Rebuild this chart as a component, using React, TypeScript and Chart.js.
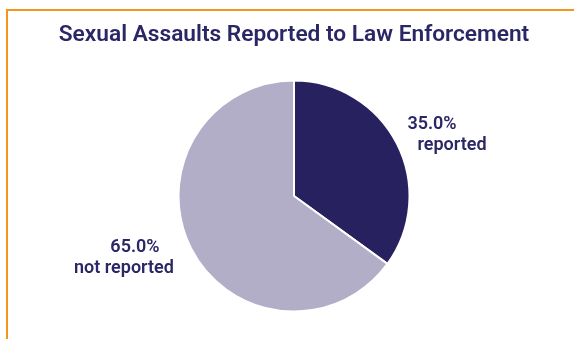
import React, { useEffect, useRef } from "react";
import { Chart, registerables } from "chart.js";

Chart.register(...registerables);

const TITLE = "Sexual Assaults Reported to Law Enforcement";
const categories = ["reported", "not reported"];
const values = [35.0, 65.0];
const sliceColors = ["#27225f", "#b3aec7"];
const TEXT_COLOR = "#2b2665";
const FONT = "Roboto, 'Liberation Sans', Arial, sans-serif";

const outLabels = {
  id: "outLabels",
  afterDatasetsDraw(chart: any) {
    const ctx = chart.ctx;
    const meta = chart.getDatasetMeta(0);
    const ds = chart.data.datasets[0];
    meta.data.forEach((arc: any, i: number) => {
      const p = arc.getProps(["x", "y", "startAngle", "endAngle", "outerRadius"], true);
      const mid = (p.startAngle + p.endAngle) / 2;
      const ax = p.x + Math.cos(mid) * p.outerRadius * 1.555;
      const ay = p.y + Math.sin(mid) * p.outerRadius * 1.18;
      const right = Math.cos(mid) > 0;
      const valDx = right ? -22 : 1;
      const nameDx = right ? -2 : -10;
      ctx.save();
      ctx.fillStyle = TEXT_COLOR;
      ctx.font = `600 18px ${FONT}`;
      ctx.textAlign = "center";
      ctx.textBaseline = "middle";
      ctx.fillText(Number(ds.data[i]).toFixed(1) + "%", ax + valDx, ay - 10);
      ctx.fillText(String(chart.data.labels[i]), ax + nameDx, ay + 11);
      ctx.restore();
    });
  },
};

export default function App() {
  const ref = useRef<HTMLCanvasElement | null>(null);
  useEffect(() => {
    if (!ref.current) return;
    const chart = new Chart(ref.current, {
      type: "pie",
      data: {
        labels: categories,
        datasets: [
          {
            data: values,
            backgroundColor: sliceColors,
            borderColor: "#ffffff",
            borderWidth: 2,
            radius: 115.5,
          } as any,
        ],
      },
      options: {
        animation: false,
        responsive: false,
        devicePixelRatio: 1,
        layout: { padding: { top: 0, left: 14, right: 0, bottom: 17 } },
        plugins: {
          legend: { display: false },
          tooltip: { enabled: false },
          title: {
            display: true,
            text: TITLE,
            color: TEXT_COLOR,
            font: { family: FONT, size: 22.7, weight: "600" as any },
            padding: { top: 21.6, bottom: 21.2 },
          },
        },
      },
      plugins: [outLabels],
    });
    return () => chart.destroy();
  }, []);
  return (
    <div style={{ position: "fixed", left: 0, top: 0, width: 574, height: 339, background: "#fff", overflow: "hidden" }}>
      <div
        style={{
          position: "absolute",
          left: 6,
          top: 9,
          width: 600,
          height: 400,
          borderTop: "2px solid #f7941d",
          borderLeft: "2px solid #f7941d",
        }}
      />
      <canvas ref={ref} width={574} height={339} style={{ position: "absolute", left: 0, top: 0 }} />
    </div>
  );
}
